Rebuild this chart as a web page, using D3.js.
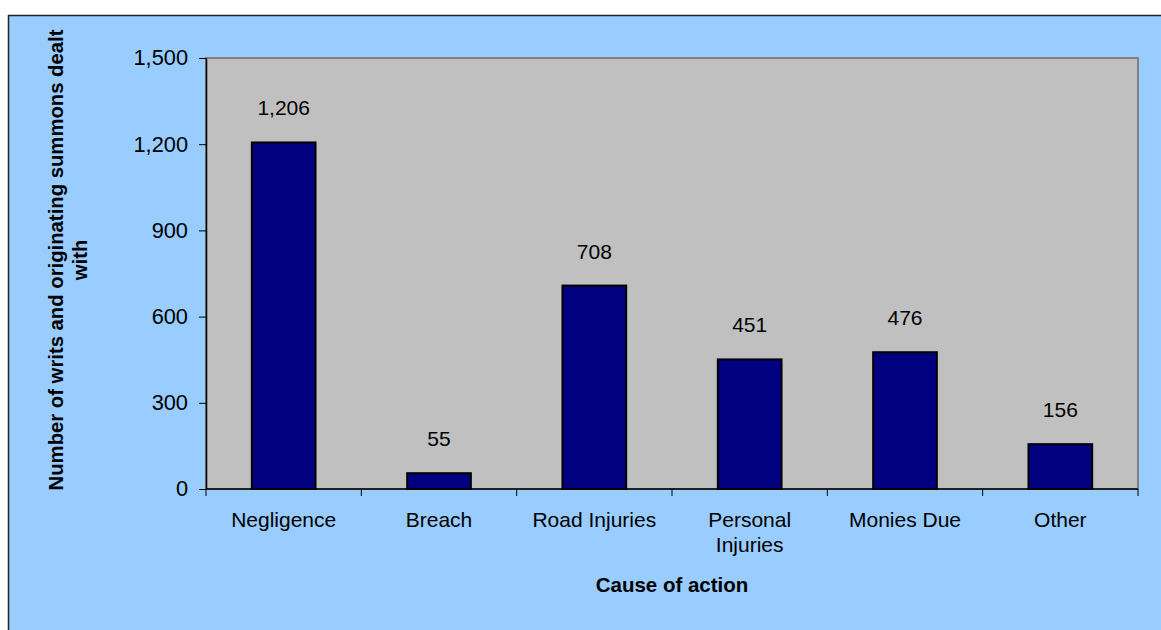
<!DOCTYPE html>
<html>
<head>
<meta charset="utf-8">
<script src="https://cdn.jsdelivr.net/npm/d3@7"></script>
<style>
  html, body { margin: 0; padding: 0; background: #fff; }
  svg { display: block; font-family: "Liberation Sans", Arial, sans-serif; }
</style>
</head>
<body>
<div id="chart"></div>
<script>
// data
var causes = ["Negligence", "Breach", "Road Injuries", "Personal Injuries", "Monies Due", "Other"];
var writs = [1206, 55, 708, 451, 476, 156];
var yTicks = [0, 300, 600, 900, 1200, 1500];

var W = 1161, H = 630;
var plot = {left: 206, top: 58, right: 1138, bottom: 489};

var svg = d3.select("#chart").append("svg")
    .attr("width", W)
    .attr("height", H);

// outer chart area
svg.append("rect")
    .attr("x", 8.5).attr("y", 15.5)
    .attr("width", W + 10).attr("height", H + 10)
    .attr("fill", "#99ccff")
    .attr("stroke", "#222")
    .attr("stroke-width", 1.5);

var x = d3.scaleBand()
    .domain(causes)
    .range([plot.left, plot.right])
    .padding(0);

var y = d3.scaleLinear()
    .domain([0, 1500])
    .range([plot.bottom, plot.top]);

// plot area
svg.append("rect")
    .attr("x", plot.left).attr("y", plot.top)
    .attr("width", plot.right - plot.left)
    .attr("height", plot.bottom - plot.top)
    .attr("fill", "#c0c0c0")
    .attr("stroke", "#808080")
    .attr("stroke-width", 2);

var barW = x.bandwidth() * 0.41;

// bars
svg.selectAll(".bar")
    .data(causes)
    .enter().append("rect")
    .attr("class", "bar")
    .attr("x", function(d) { return x(d) + x.bandwidth() / 2 - barW / 2; })
    .attr("width", barW)
    .attr("y", function(d, i) { return y(writs[i]); })
    .attr("height", function(d, i) { return plot.bottom - y(writs[i]); })
    .attr("fill", "#000080")
    .attr("stroke", "#000")
    .attr("stroke-width", 2);

// value labels
svg.selectAll(".val")
    .data(causes)
    .enter().append("text")
    .attr("class", "val")
    .attr("x", function(d) { return x(d) + x.bandwidth() / 2; })
    .attr("y", function(d, i) { return y(writs[i]) - 27; })
    .attr("text-anchor", "middle")
    .style("font-size", "21px")
    .attr("fill", "#000")
    .text(function(d, i) { return d3.format(",")(writs[i]); });

// y axis
var yAxis = svg.append("g")
    .attr("transform", "translate(" + plot.left + ",0)")
    .call(d3.axisLeft(y).tickValues(yTicks).tickFormat(d3.format(","))
        .tickSize(7).tickSizeOuter(0).tickPadding(11));
yAxis.select(".domain").attr("stroke", "#000").attr("stroke-width", 1.5);
yAxis.selectAll(".tick line").attr("stroke", "#000");
yAxis.selectAll(".tick text")
    .style("font-size", "21.8px")
    .style("font-family", "'Liberation Sans', Arial, sans-serif")
    .attr("fill", "#000");

// x axis line and boundary ticks
svg.append("line")
    .attr("x1", plot.left).attr("x2", plot.right)
    .attr("y1", plot.bottom).attr("y2", plot.bottom)
    .attr("stroke", "#000").attr("stroke-width", 1.5);

var bounds = causes.map(function(d) { return x(d); }).concat([plot.right]);
svg.selectAll(".xtick")
    .data(bounds)
    .enter().append("line")
    .attr("class", "xtick")
    .attr("x1", function(d) { return d; }).attr("x2", function(d) { return d; })
    .attr("y1", plot.bottom).attr("y2", plot.bottom + 7)
    .attr("stroke", "#000");

// category labels, wrapped when wider than the band
var xl = svg.selectAll(".xlab")
    .data(causes)
    .enter().append("text")
    .attr("class", "xlab")
    .attr("text-anchor", "middle")
    .style("font-size", "21px")
    .attr("fill", "#000")
    .attr("y", 527);

xl.each(function(d) {
    var t = d3.select(this);
    var cx = x(d) + x.bandwidth() / 2;
    t.text(d);
    if (this.getComputedTextLength() > x.bandwidth() - 6) {
        var words = d.split(" ");
        t.text(null);
        words.forEach(function(w, k) {
            t.append("tspan")
                .attr("x", cx)
                .attr("dy", k == 0 ? 0 : 25)
                .text(w);
        });
    } else {
        t.attr("x", cx);
    }
});

// axis titles
svg.append("text")
    .attr("x", (plot.left + plot.right) / 2)
    .attr("y", 592)
    .attr("text-anchor", "middle")
    .style("font-size", "20.5px")
    .style("font-weight", "bold")
    .text("Cause of action");

var yt = svg.append("text")
    .attr("transform", "translate(63,260)rotate(-90)")
    .attr("text-anchor", "middle")
    .style("font-size", "20.3px")
    .style("font-weight", "bold");
yt.append("tspan").attr("x", 0).attr("dy", 0).text("Number of writs and originating summons dealt");
yt.append("tspan").attr("x", 0).attr("dy", 24).text("with");
</script>
</body>
</html>
